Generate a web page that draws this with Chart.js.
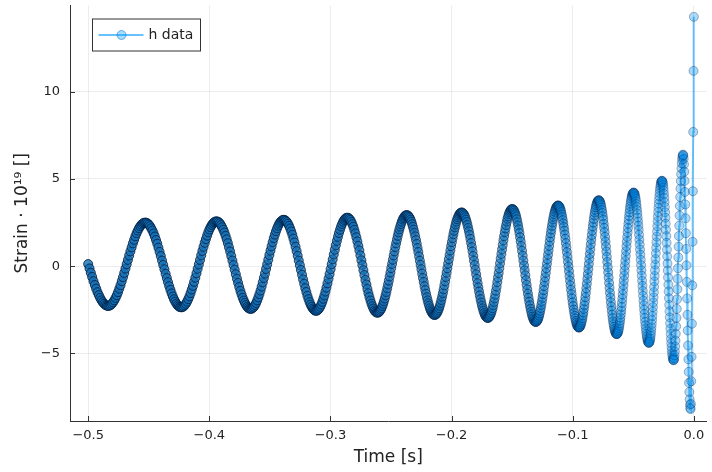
<!DOCTYPE html>
<html>
<head>
<meta charset="utf-8">
<script src="https://cdn.jsdelivr.net/npm/chart.js@4.4.1/dist/chart.umd.min.js"></script>
<style>
  html, body { margin: 0; padding: 0; background: #ffffff; }
  #wrap { width: 712px; height: 472px; }
</style>
</head>
<body>
<div id="wrap"><canvas id="chart" width="712" height="472"></canvas></div>
<script>
// Sample times in milliseconds (one row per half-cycle of the chirp)
const sampleTimeMs = [
-500.0,-498.9,-497.8,-496.7,-495.6,-494.5,-493.4,-492.3,-491.2,-490.1,-489.0,-487.9,-486.8,-485.7,-484.6,
-483.50,-482.48,-481.46,-480.44,-479.42,-478.40,-477.38,-476.36,-475.34,-474.32,-473.30,-472.28,-471.26,-470.24,-469.22,-468.20,-467.18,-466.16,-465.14,-464.12,-463.10,-462.08,-461.06,-460.04,-459.02,-458.00,-456.98,-455.96,-454.94,-453.92,
-452.90,-451.91,-450.92,-449.93,-448.94,-447.95,-446.96,-445.97,-444.98,-443.99,-443.00,-442.01,-441.02,-440.03,-439.04,-438.05,-437.06,-436.07,-435.08,-434.09,-433.10,-432.11,-431.12,-430.13,-429.14,-428.15,-427.16,-426.17,-425.18,-424.19,
-423.20,-422.23,-421.26,-420.29,-419.32,-418.35,-417.38,-416.41,-415.44,-414.47,-413.50,-412.53,-411.56,-410.59,-409.62,-408.65,-407.68,-406.71,-405.74,-404.77,-403.80,-402.83,-401.86,-400.89,-399.92,-398.95,-397.98,-397.01,-396.04,-395.07,
-394.10,-393.16,-392.22,-391.28,-390.34,-389.40,-388.46,-387.52,-386.58,-385.64,-384.70,-383.76,-382.82,-381.88,-380.94,-380.00,-379.06,-378.12,-377.18,-376.24,-375.30,-374.36,-373.42,-372.48,-371.54,-370.60,-369.66,-368.72,-367.78,-366.84,
-365.90,-364.99,-364.08,-363.17,-362.26,-361.35,-360.44,-359.53,-358.62,-357.71,-356.80,-355.89,-354.98,-354.07,-353.16,-352.25,-351.34,-350.43,-349.52,-348.61,-347.70,-346.79,-345.88,-344.97,-344.06,-343.15,-342.24,-341.33,-340.42,-339.51,
-338.60,-337.71,-336.82,-335.93,-335.04,-334.15,-333.26,-332.37,-331.48,-330.59,-329.70,-328.81,-327.92,-327.03,-326.14,-325.25,-324.36,-323.47,-322.58,-321.69,-320.80,-319.91,-319.02,-318.13,-317.24,-316.35,-315.46,-314.57,-313.68,-312.79,
-311.90,-311.04,-310.18,-309.32,-308.46,-307.60,-306.74,-305.88,-305.02,-304.16,-303.30,-302.44,-301.58,-300.72,-299.86,-299.00,-298.14,-297.28,-296.42,-295.56,-294.70,-293.84,-292.98,-292.12,-291.26,-290.40,-289.54,-288.68,-287.82,-286.96,
-286.10,-285.27,-284.44,-283.61,-282.78,-281.95,-281.12,-280.29,-279.46,-278.63,-277.80,-276.97,-276.14,-275.31,-274.48,-273.65,-272.82,-271.99,-271.16,-270.33,-269.50,-268.67,-267.84,-267.01,-266.18,-265.35,-264.52,-263.69,-262.86,-262.03,
-261.20,-260.53,-259.86,-259.19,-258.52,-257.85,-257.18,-256.51,-255.84,-255.17,-254.50,-253.83,-253.16,-252.49,-251.82,-251.15,-250.48,-249.81,-249.14,-248.47,-247.80,-247.13,-246.46,-245.79,-245.12,-244.45,-243.78,-243.11,-242.44,-241.77,-241.10,-240.43,-239.76,-239.09,-238.42,-237.75,
-237.08,-236.44,-235.80,-235.16,-234.52,-233.88,-233.24,-232.60,-231.96,-231.32,-230.68,-230.04,-229.40,-228.76,-228.12,-227.48,-226.84,-226.20,-225.56,-224.92,-224.28,-223.64,-223.00,-222.36,-221.72,-221.08,-220.44,-219.80,-219.16,-218.52,-217.88,-217.24,-216.60,-215.96,-215.32,-214.68,
-214.04,-213.42,-212.80,-212.18,-211.56,-210.94,-210.32,-209.70,-209.08,-208.46,-207.84,-207.22,-206.60,-205.98,-205.36,-204.74,-204.12,-203.50,-202.88,-202.26,-201.64,-201.02,-200.40,-199.78,-199.16,-198.54,-197.92,-197.30,-196.68,-196.06,-195.44,-194.82,-194.20,-193.58,-192.96,-192.34,
-191.72,-191.12,-190.52,-189.92,-189.32,-188.72,-188.12,-187.52,-186.92,-186.32,-185.72,-185.12,-184.52,-183.92,-183.32,-182.72,-182.12,-181.52,-180.92,-180.32,-179.72,-179.12,-178.52,-177.92,-177.32,-176.72,-176.12,-175.52,-174.92,-174.32,-173.72,-173.12,-172.52,-171.92,-171.32,-170.72,
-170.12,-169.56,-169.00,-168.44,-167.88,-167.32,-166.76,-166.20,-165.64,-165.08,-164.52,-163.96,-163.40,-162.84,-162.28,-161.72,-161.16,-160.60,-160.04,-159.48,-158.92,-158.36,-157.80,-157.24,-156.68,-156.12,-155.56,-155.00,-154.44,-153.88,-153.32,-152.76,-152.20,-151.64,-151.08,-150.52,
-149.96,-149.42,-148.88,-148.34,-147.80,-147.26,-146.72,-146.18,-145.64,-145.10,-144.56,-144.02,-143.48,-142.94,-142.40,-141.86,-141.32,-140.78,-140.24,-139.70,-139.16,-138.62,-138.08,-137.54,-137.00,-136.46,-135.92,-135.38,-134.84,-134.30,-133.76,-133.22,-132.68,-132.14,-131.60,-131.06,
-130.52,-130.06,-129.60,-129.14,-128.68,-128.22,-127.76,-127.30,-126.84,-126.38,-125.92,-125.46,-125.00,-124.54,-124.08,-123.62,-123.16,-122.70,-122.24,-121.78,-121.32,-120.86,-120.40,-119.94,-119.48,-119.02,-118.56,-118.10,-117.64,-117.18,-116.72,-116.26,-115.80,-115.34,-114.88,-114.42,-113.96,-113.50,-113.04,-112.58,
-112.12,-111.69,-111.26,-110.83,-110.40,-109.97,-109.54,-109.11,-108.68,-108.25,-107.82,-107.39,-106.96,-106.53,-106.10,-105.67,-105.24,-104.81,-104.38,-103.95,-103.52,-103.09,-102.66,-102.23,-101.80,-101.37,-100.94,-100.51,-100.08,-99.65,-99.22,-98.79,-98.36,-97.93,-97.50,-97.07,-96.64,-96.21,-95.78,-95.35,
-94.92,-94.51,-94.10,-93.69,-93.28,-92.87,-92.46,-92.05,-91.64,-91.23,-90.82,-90.41,-90.00,-89.59,-89.18,-88.77,-88.36,-87.95,-87.54,-87.13,-86.72,-86.31,-85.90,-85.49,-85.08,-84.67,-84.26,-83.85,-83.44,-83.03,-82.62,-82.21,-81.80,-81.39,-80.98,-80.57,-80.16,-79.75,-79.34,-78.93,
-78.52,-78.15,-77.78,-77.41,-77.04,-76.67,-76.30,-75.93,-75.56,-75.19,-74.82,-74.45,-74.08,-73.71,-73.34,-72.97,-72.60,-72.23,-71.86,-71.49,-71.12,-70.75,-70.38,-70.01,-69.64,-69.27,-68.90,-68.53,-68.16,-67.79,-67.42,-67.05,-66.68,-66.31,-65.94,-65.57,-65.20,-64.83,-64.46,-64.09,
-63.72,-63.41,-63.10,-62.79,-62.48,-62.17,-61.86,-61.55,-61.24,-60.93,-60.62,-60.31,-60.00,-59.69,-59.38,-59.07,-58.76,-58.45,-58.14,-57.83,-57.52,-57.21,-56.90,-56.59,-56.28,-55.97,-55.66,-55.35,-55.04,-54.73,-54.42,-54.11,-53.80,-53.49,-53.18,-52.87,-52.56,-52.25,-51.94,-51.63,-51.32,-51.01,-50.70,-50.39,-50.08,
-49.77,-49.49,-49.21,-48.93,-48.65,-48.37,-48.09,-47.81,-47.53,-47.25,-46.97,-46.69,-46.41,-46.13,-45.85,-45.57,-45.29,-45.01,-44.73,-44.45,-44.17,-43.89,-43.61,-43.33,-43.05,-42.77,-42.49,-42.21,-41.93,-41.65,-41.37,-41.09,-40.81,-40.53,-40.25,-39.97,-39.69,-39.41,-39.13,-38.85,-38.57,-38.29,-38.01,-37.73,-37.45,
-37.17,-36.93,-36.69,-36.45,-36.21,-35.97,-35.73,-35.49,-35.25,-35.01,-34.77,-34.53,-34.29,-34.05,-33.81,-33.57,-33.33,-33.09,-32.85,-32.61,-32.37,-32.13,-31.89,-31.65,-31.41,-31.17,-30.93,-30.69,-30.45,-30.21,-29.97,-29.73,-29.49,-29.25,-29.01,-28.77,-28.53,-28.29,-28.05,-27.81,-27.57,-27.33,-27.09,-26.85,-26.61,
-26.37,-26.13,-25.89,-25.65,-25.41,-25.17,-24.93,-24.69,-24.45,-24.21,-23.97,-23.73,-23.49,-23.25,-23.01,-22.77,-22.53,-22.29,-22.05,-21.81,-21.57,-21.33,-21.09,-20.85,-20.61,-20.37,-20.13,-19.89,-19.65,-19.41,-19.17,-18.93,-18.69,-18.45,-18.21,-17.97,-17.73,-17.49,-17.25,-17.01,
-16.77,-16.51,-16.25,-15.99,-15.73,-15.47,-15.21,-14.95,-14.69,-14.43,-14.17,-13.91,-13.65,-13.39,-13.13,-12.87,-12.61,-12.35,-12.09,-11.83,-11.57,-11.31,-11.05,-10.79,-10.53,-10.27,-10.01,-9.75,-9.49,-9.23,
-8.97,-8.71,-8.45,-8.19,-7.93,-7.67,-7.41,-7.15,-6.89,-6.63,-6.37,-6.11,-5.85,-5.59,-5.33,-5.07,-4.81,-4.55,-4.29,-4.03,-3.77,-3.51,-3.25,-2.99,
-2.73,-2.46,-2.19,-1.92,-1.65,-1.38,-1.11,-0.84,-0.57,-0.30,-0.03
];

// Strain values (×10^19), same layout as the times above
const strainValues = [
0.12,-0.13,-0.38,-0.62,-0.86,-1.08,-1.29,-1.49,-1.66,-1.82,-1.96,-2.07,-2.16,-2.23,-2.27,
-2.28,-2.27,-2.23,-2.16,-2.07,-1.96,-1.82,-1.67,-1.49,-1.29,-1.09,-0.86,-0.63,-0.39,-0.14,0.11,0.36,0.61,0.85,1.08,1.31,1.51,1.71,1.89,2.04,2.18,2.29,2.38,2.45,2.49,
2.50,2.49,2.45,2.38,2.29,2.17,2.04,1.88,1.70,1.50,1.29,1.06,0.82,0.58,0.32,0.07,-0.18,-0.44,-0.68,-0.92,-1.15,-1.36,-1.56,-1.74,-1.90,-2.03,-2.15,-2.24,-2.31,-2.35,
-2.36,-2.35,-2.31,-2.24,-2.15,-2.03,-1.89,-1.73,-1.54,-1.34,-1.13,-0.90,-0.66,-0.41,-0.15,0.10,0.36,0.62,0.87,1.11,1.34,1.55,1.75,1.94,2.10,2.24,2.36,2.45,2.52,2.56,
2.57,2.56,2.52,2.45,2.35,2.23,2.09,1.93,1.74,1.54,1.32,1.08,0.84,0.58,0.32,0.06,-0.20,-0.46,-0.72,-0.96,-1.20,-1.42,-1.62,-1.81,-1.97,-2.11,-2.23,-2.33,-2.40,-2.44,
-2.45,-2.44,-2.39,-2.33,-2.23,-2.11,-1.96,-1.79,-1.60,-1.40,-1.17,-0.93,-0.68,-0.43,-0.16,0.10,0.37,0.64,0.89,1.14,1.38,1.61,1.81,2.00,2.17,2.32,2.44,2.54,2.60,2.65,
2.66,2.65,2.60,2.53,2.43,2.31,2.16,1.99,1.80,1.58,1.36,1.11,0.86,0.59,0.32,0.05,-0.22,-0.49,-0.76,-1.01,-1.26,-1.48,-1.70,-1.89,-2.06,-2.21,-2.33,-2.43,-2.50,-2.55,
-2.56,-2.55,-2.50,-2.43,-2.33,-2.20,-2.05,-1.87,-1.68,-1.46,-1.23,-0.98,-0.72,-0.45,-0.17,0.11,0.39,0.67,0.94,1.20,1.45,1.68,1.90,2.09,2.27,2.42,2.55,2.65,2.72,2.77,
2.78,2.77,2.72,2.65,2.54,2.41,2.26,2.08,1.88,1.66,1.42,1.16,0.90,0.62,0.34,0.06,-0.23,-0.51,-0.79,-1.05,-1.31,-1.55,-1.77,-1.97,-2.15,-2.30,-2.43,-2.54,-2.61,-2.66,
-2.67,-2.66,-2.63,-2.57,-2.50,-2.41,-2.29,-2.16,-2.01,-1.85,-1.67,-1.48,-1.27,-1.05,-0.83,-0.59,-0.36,-0.11,0.13,0.37,0.62,0.85,1.09,1.31,1.53,1.74,1.93,2.11,2.27,2.42,2.55,2.67,2.76,2.83,2.89,2.92,
2.93,2.92,2.89,2.83,2.76,2.66,2.55,2.41,2.26,2.09,1.91,1.71,1.50,1.28,1.04,0.81,0.56,0.31,0.07,-0.18,-0.43,-0.68,-0.91,-1.15,-1.37,-1.58,-1.78,-1.96,-2.13,-2.28,-2.42,-2.53,-2.63,-2.70,-2.76,-2.79,
-2.80,-2.79,-2.76,-2.70,-2.62,-2.52,-2.41,-2.27,-2.11,-1.94,-1.75,-1.55,-1.33,-1.10,-0.87,-0.62,-0.37,-0.12,0.14,0.40,0.65,0.90,1.15,1.38,1.61,1.83,2.03,2.22,2.39,2.55,2.69,2.80,2.90,2.98,3.04,3.07,
3.08,3.07,3.03,2.98,2.90,2.80,2.67,2.53,2.37,2.19,2.00,1.79,1.57,1.33,1.09,0.84,0.58,0.32,0.06,-0.21,-0.47,-0.73,-0.98,-1.22,-1.46,-1.68,-1.89,-2.08,-2.26,-2.42,-2.56,-2.69,-2.79,-2.87,-2.92,-2.96,
-2.97,-2.96,-2.92,-2.86,-2.78,-2.68,-2.55,-2.41,-2.24,-2.05,-1.85,-1.64,-1.41,-1.17,-0.91,-0.65,-0.39,-0.12,0.16,0.43,0.70,0.96,1.22,1.48,1.72,1.95,2.16,2.36,2.55,2.72,2.86,2.99,3.09,3.17,3.23,3.27,
3.28,3.27,3.23,3.17,3.08,2.98,2.85,2.69,2.52,2.33,2.12,1.90,1.66,1.41,1.15,0.88,0.60,0.32,0.04,-0.24,-0.52,-0.80,-1.07,-1.33,-1.58,-1.82,-2.04,-2.25,-2.44,-2.61,-2.77,-2.90,-3.00,-3.09,-3.15,-3.19,
-3.20,-3.19,-3.16,-3.11,-3.04,-2.95,-2.84,-2.71,-2.56,-2.40,-2.22,-2.03,-1.82,-1.61,-1.38,-1.14,-0.89,-0.64,-0.38,-0.12,0.14,0.40,0.66,0.92,1.17,1.42,1.66,1.89,2.10,2.31,2.50,2.68,2.84,2.99,3.12,3.23,3.32,3.39,3.44,3.47,
3.48,3.47,3.44,3.38,3.31,3.21,3.10,2.96,2.81,2.64,2.45,2.25,2.04,1.81,1.57,1.32,1.06,0.80,0.53,0.25,-0.02,-0.29,-0.57,-0.84,-1.10,-1.36,-1.61,-1.85,-2.08,-2.29,-2.49,-2.68,-2.85,-3.00,-3.14,-3.25,-3.35,-3.42,-3.48,-3.51,
-3.52,-3.51,-3.48,-3.42,-3.34,-3.24,-3.12,-2.98,-2.82,-2.65,-2.45,-2.24,-2.02,-1.78,-1.53,-1.27,-1.00,-0.72,-0.44,-0.16,0.13,0.42,0.70,0.98,1.26,1.53,1.79,2.04,2.28,2.50,2.71,2.91,3.08,3.24,3.38,3.50,3.60,3.68,3.74,3.77,
3.78,3.77,3.73,3.67,3.59,3.49,3.36,3.21,3.05,2.86,2.66,2.43,2.20,1.95,1.68,1.41,1.13,0.84,0.54,0.24,-0.06,-0.36,-0.66,-0.96,-1.25,-1.53,-1.80,-2.07,-2.32,-2.55,-2.78,-2.98,-3.17,-3.33,-3.48,-3.61,-3.71,-3.79,-3.85,-3.89,
-3.90,-3.89,-3.86,-3.81,-3.74,-3.66,-3.55,-3.42,-3.28,-3.12,-2.95,-2.76,-2.56,-2.34,-2.11,-1.87,-1.62,-1.36,-1.09,-0.82,-0.54,-0.26,0.02,0.30,0.58,0.86,1.14,1.41,1.68,1.94,2.19,2.43,2.66,2.88,3.08,3.27,3.44,3.60,3.74,3.87,3.98,4.06,4.13,4.18,4.21,
4.22,4.21,4.18,4.13,4.05,3.96,3.85,3.72,3.56,3.40,3.21,3.01,2.79,2.56,2.32,2.07,1.80,1.52,1.24,0.95,0.66,0.36,0.06,-0.24,-0.54,-0.84,-1.13,-1.42,-1.70,-1.98,-2.25,-2.50,-2.74,-2.97,-3.19,-3.39,-3.58,-3.74,-3.90,-4.03,-4.14,-4.23,-4.31,-4.36,-4.39,
-4.40,-4.39,-4.35,-4.30,-4.22,-4.12,-4.00,-3.86,-3.69,-3.51,-3.31,-3.09,-2.86,-2.61,-2.35,-2.08,-1.79,-1.49,-1.19,-0.87,-0.56,-0.24,0.09,0.41,0.74,1.06,1.37,1.69,1.99,2.29,2.58,2.85,3.11,3.36,3.59,3.81,4.01,4.19,4.36,4.50,4.62,4.72,4.80,4.85,4.89,
4.90,4.88,4.84,4.76,4.65,4.51,4.34,4.14,3.92,3.67,3.39,3.09,2.78,2.44,2.09,1.72,1.34,0.95,0.56,0.15,-0.25,-0.65,-1.06,-1.45,-1.84,-2.22,-2.59,-2.94,-3.28,-3.59,-3.89,-4.17,-4.42,-4.64,-4.84,-5.01,-5.15,-5.26,-5.34,-5.38,
-5.40,-5.37,-5.27,-5.11,-4.89,-4.61,-4.27,-3.88,-3.45,-2.97,-2.45,-1.90,-1.32,-0.73,-0.12,0.50,1.12,1.73,2.32,2.90,3.45,3.97,4.45,4.88,5.27,5.61,5.89,6.11,6.27,6.37,
6.40,6.34,6.15,5.84,5.42,4.89,4.26,3.54,2.75,1.89,0.99,0.05,-0.90,-1.85,-2.79,-3.69,-4.55,-5.34,-6.06,-6.69,-7.22,-7.64,-7.95,-8.14,
-8.20,-7.90,-6.60,-5.20,-3.30,-1.10,1.40,4.30,7.70,11.20,14.30
];

const xTickValues = [-0.5, -0.4, -0.3, -0.2, -0.1, 0.0];
const yTickValues = [-5, 0, 5, 10];
const seriesLabel = 'h data';
const xAxisTitle = 'Time [s]';
const yAxisTitle = 'Strain · 10¹⁹ []';

const FONT = 'DejaVu Sans';
const LINE_COLOR = 'rgba(0,154,250,0.6)';
// marker colours: light (sparse samples) and deep (dense samples)
const FILL_LIGHT = [0, 140, 232], FILL_DEEP = [16, 108, 178];
const EDGE_LIGHT = [0, 45, 100], EDGE_DEEP = [0, 28, 64];
const FILL_ALPHA = 0.3;
const EDGE_ALPHA = 0.33;
const REF_STEP_MS = 0.25;   // marker opacity is scaled so sparser stretches read as dense as 0.25 ms sampling
const AXIS_COLOR = '#333333';
const TEXT_COLOR = '#222222';

const points = sampleTimeMs.map((t, i) => ({ x: t / 1000, y: strainValues[i] }));

function localStepMs(i) {
  const n = sampleTimeMs.length;
  const lo = Math.max(i - 1, 0), hi = Math.min(i + 1, n - 1);
  return (sampleTimeMs[hi] - sampleTimeMs[lo]) / (hi - lo);
}
function stepRatio(i) {
  return Math.max(1, localStepMs(i) / REF_STEP_MS);
}
function markerColor(i, light, deep, base) {
  const r = stepRatio(i);
  const k = Math.min(1, Math.max(0, (r - 1) / 1.5));
  const rgb = light.map((c, j) => Math.round(c + (deep[j] - c) * k));
  const a = 1 - Math.pow(1 - base, r);
  return 'rgba(' + rgb.join(',') + ',' + a.toFixed(3) + ')';
}

// Plots-style number formatting with a true minus sign
function fmtTick(v, digits) {
  const s = Math.abs(v).toFixed(digits);
  return (v < 0 ? '\u2212' : '') + s;
}

// Short tick marks pointing into the plot area
const innerTicks = {
  id: 'innerTicks',
  afterDatasetsDraw(chart) {
    const { ctx, chartArea: a, scales: { x, y } } = chart;
    ctx.save();
    ctx.strokeStyle = AXIS_COLOR;
    ctx.lineWidth = 1;
    ctx.beginPath();
    x.ticks.forEach(t => {
      const px = Math.round(x.getPixelForValue(t.value)) + 0.5;
      ctx.moveTo(px, a.bottom);
      ctx.lineTo(px, a.bottom - 5);
    });
    y.ticks.forEach(t => {
      const py = Math.round(y.getPixelForValue(t.value)) + 0.5;
      ctx.moveTo(a.left, py);
      ctx.lineTo(a.left + 5, py);
    });
    ctx.stroke();
    ctx.restore();
  }
};

// Framed legend in the upper-left corner of the plot area
const framedLegend = {
  id: 'framedLegend',
  afterDraw(chart) {
    const { ctx, chartArea: a } = chart;
    const ds = chart.data.datasets[0];
    const bx = a.left + 22.5, by = a.top + 13.5, bw = 108, bh = 32;
    ctx.save();
    ctx.fillStyle = '#ffffff';
    ctx.fillRect(bx, by, bw, bh);
    ctx.strokeStyle = AXIS_COLOR;
    ctx.lineWidth = 1;
    ctx.strokeRect(bx, by, bw, bh);
    const cy = by + bh / 2;
    ctx.strokeStyle = LINE_COLOR;
    ctx.lineWidth = ds.borderWidth;
    ctx.beginPath();
    ctx.moveTo(bx + 6, cy);
    ctx.lineTo(bx + 51, cy);
    ctx.stroke();
    ctx.beginPath();
    ctx.arc(bx + 29, cy, ds.pointRadius, 0, Math.PI * 2);
    ctx.fillStyle = 'rgba(0,154,250,0.35)';
    ctx.fill();
    ctx.strokeStyle = 'rgba(0,110,200,0.5)';
    ctx.lineWidth = 1;
    ctx.stroke();
    ctx.fillStyle = TEXT_COLOR;
    ctx.font = '14px "' + FONT + '"';
    ctx.textBaseline = 'middle';
    ctx.textAlign = 'left';
    ctx.fillText(ds.label, bx + 56, cy + 0.5);
    ctx.restore();
  }
};

Chart.defaults.font.family = FONT;

new Chart(document.getElementById('chart'), {
  type: 'line',
  data: {
    datasets: [{
      label: seriesLabel,
      data: points,
      borderColor: LINE_COLOR,
      borderWidth: 2,
      pointRadius: 4.5,
      pointBorderWidth: 1,
      pointBackgroundColor: c => markerColor(c.dataIndex, FILL_LIGHT, FILL_DEEP, FILL_ALPHA),
      pointBorderColor: c => markerColor(c.dataIndex, EDGE_LIGHT, EDGE_DEEP, EDGE_ALPHA),
      pointHoverRadius: 4.5,
      tension: 0,
      fill: false
    }]
  },
  options: {
    responsive: false,
    animation: false,
    devicePixelRatio: 1,
    events: [],
    layout: { padding: { top: 4, right: 0, bottom: 0, left: 0 } },
    plugins: {
      legend: { display: false },
      tooltip: { enabled: false }
    },
    scales: {
      x: {
        type: 'linear',
        min: -0.515,
        max: 0.0104,
        afterBuildTicks: s => { s.ticks = xTickValues.map(v => ({ value: v })); },
        afterFit: s => { s.height = 51; s.paddingLeft = 0; s.paddingRight = 0; },
        ticks: {
          callback: v => fmtTick(v, 1),
          color: TEXT_COLOR,
          font: { size: 13 },
          padding: 7,
          maxRotation: 0,
          autoSkip: false
        },
        grid: { color: 'rgba(0,0,0,0.07)', drawTicks: false },
        border: { display: true, color: AXIS_COLOR, width: 1 },
        title: {
          display: true,
          text: xAxisTitle,
          color: TEXT_COLOR,
          font: { size: 17 },
          padding: { top: 0, bottom: 4 }
        }
      },
      y: {
        type: 'linear',
        min: -8.88,
        max: 14.95,
        afterBuildTicks: s => { s.ticks = yTickValues.map(v => ({ value: v })); },
        afterFit: s => { s.width = 70; s.paddingTop = 0; s.paddingBottom = 0; },
        ticks: {
          callback: v => fmtTick(v, 0),
          color: TEXT_COLOR,
          font: { size: 13 },
          padding: 10
        },
        grid: { color: 'rgba(0,0,0,0.07)', drawTicks: false },
        border: { display: true, color: AXIS_COLOR, width: 1 },
        title: {
          display: true,
          text: yAxisTitle,
          color: TEXT_COLOR,
          font: { size: 17 },
          padding: { top: 12, bottom: 0 }
        }
      }
    }
  },
  plugins: [innerTicks, framedLegend]
});
</script>
</body>
</html>
